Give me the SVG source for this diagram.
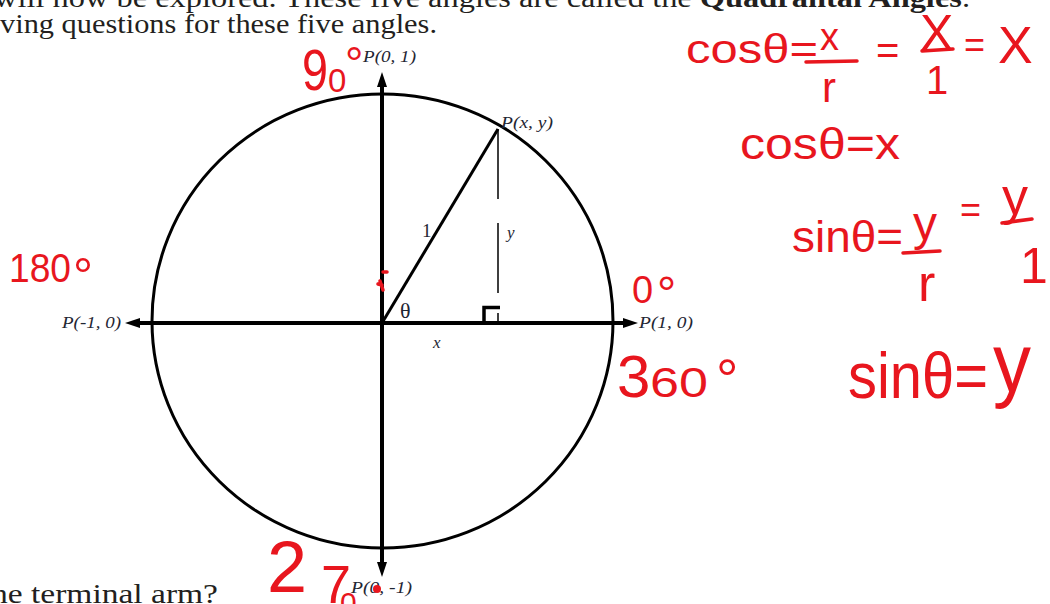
<svg xmlns="http://www.w3.org/2000/svg" width="1050" height="604" viewBox="0 0 1050 604">
<style>
.doc{font-family:"Liberation Serif","DejaVu Serif",serif;font-size:27px;fill:#231f20}
.lbl{font-family:"Liberation Serif","DejaVu Serif",serif;font-style:italic;font-size:17px;fill:#1f2633}
.up{font-family:"Liberation Serif","DejaVu Serif",serif;fill:#1f2633}
.hw{font-family:"Liberation Sans","DejaVu Sans",sans-serif;fill:#e8161e}
.bar{stroke:#e8161e;stroke-width:3.5;stroke-linecap:round;fill:none}
.ax{stroke:#000;stroke-width:4;fill:none}
</style>
<defs>
<marker id="arr" markerUnits="userSpaceOnUse" markerWidth="16" markerHeight="11" refX="5" refY="5" orient="auto-start-reverse">
<path d="M0,0 L15,5 L0,10 z" fill="#000"/>
</marker>
</defs>
<rect width="1050" height="604" fill="#fff"/>

<g id="page-text">
<text class="doc" x="-6" y="7" textLength="976" lengthAdjust="spacingAndGlyphs">will now be explored. These five angles are called the <tspan font-weight="bold">Quadrantal Angles</tspan>.</text>
<text class="doc" x="0" y="33" textLength="437" lengthAdjust="spacingAndGlyphs">ving questions for these five angles.</text>
<text class="doc" x="-9" y="603" textLength="227" lengthAdjust="spacingAndGlyphs">he terminal arm?</text>
</g>

<g id="circle">
<ellipse cx="382.5" cy="321" rx="230.5" ry="227" fill="none" stroke="#000" stroke-width="3"/>
</g>

<g id="connectors">
<line class="ax" x1="135" y1="323" x2="628" y2="323" marker-start="url(#arr)" marker-end="url(#arr)"/>
<line class="ax" x1="382" y1="82" x2="382" y2="567" marker-start="url(#arr)" marker-end="url(#arr)"/>
<line x1="382" y1="323" x2="498" y2="129" stroke="#000" stroke-width="3"/>
<path d="M498,129 V199 M498,223 V293 M498,313 V323" stroke="#000" stroke-width="1.5" fill="none"/>
<path d="M484,323 V307.5 H500" stroke="#000" stroke-width="3.5" fill="none"/>
</g>

<g id="labels">
<text class="lbl" x="363" y="62" textLength="53" lengthAdjust="spacingAndGlyphs">P(0, 1)</text>
<text class="lbl" x="501" y="128" textLength="52" lengthAdjust="spacingAndGlyphs">P(x, y)</text>
<text class="lbl" x="62" y="328" textLength="59" lengthAdjust="spacingAndGlyphs">P(-1, 0)</text>
<text class="lbl" x="639" y="328" textLength="54" lengthAdjust="spacingAndGlyphs">P(1, 0)</text>
<text class="lbl" x="351" y="593" textLength="61" lengthAdjust="spacingAndGlyphs">P(0, -1)</text>
<text class="up" x="422" y="237" font-size="19">1</text>
<text class="lbl" x="507" y="238" font-size="17">y</text>
<text class="up" x="400" y="318" font-size="22">θ</text>
<text class="lbl" x="433" y="348" font-size="17">x</text>
</g>

<g id="annotations">
<text class="hw" x="302" y="90" font-size="58" textLength="26" lengthAdjust="spacingAndGlyphs">9</text>
<text class="hw" x="328" y="92" font-size="33">0</text>
<text class="hw" x="345" y="80" font-size="46">°</text>

<text class="hw" x="9" y="282" font-size="40" textLength="62" lengthAdjust="spacingAndGlyphs">180</text>
<text class="hw" x="73" y="293" font-size="50">°</text>

<text class="hw" x="632" y="303" font-size="38">0</text>
<text class="hw" x="657" y="310" font-size="48">°</text>

<text class="hw" x="617" y="397" font-size="60">3</text>
<text class="hw" x="650" y="397" font-size="42" textLength="58" lengthAdjust="spacingAndGlyphs">60</text>
<text class="hw" x="716" y="398" font-size="56">°</text>

<text class="hw" x="267" y="592" font-size="72">2</text>
<text class="hw" x="321" y="603" font-size="54">7</text>
<text class="hw" x="340" y="613" font-size="30">0</text>
<circle cx="377" cy="589" r="4" fill="#e8161e"/>

<path class="bar" d="M383,272 L387,272 M380,281 L383,290 M378,284 L382,285"/>

<text class="hw" x="686" y="63" font-size="40" textLength="132" lengthAdjust="spacingAndGlyphs">cosθ=</text>
<text class="hw" x="820" y="50" font-size="38">x</text>
<line class="bar" x1="806" y1="62" x2="857" y2="61"/>
<text class="hw" x="822" y="102" font-size="42">r</text>
<text class="hw" x="876" y="64" font-size="40">=</text>
<text class="hw" x="920" y="50" font-size="50">X</text>
<line class="bar" x1="922" y1="51" x2="953" y2="49"/>
<text class="hw" x="926" y="94" font-size="40">1</text>
<text class="hw" x="964" y="57" font-size="36">=</text>
<text class="hw" x="998" y="63" font-size="52">X</text>

<text class="hw" x="740" y="159" font-size="44" textLength="160" lengthAdjust="spacingAndGlyphs">cosθ=x</text>

<text class="hw" x="792" y="252" font-size="44" textLength="111" lengthAdjust="spacingAndGlyphs">sinθ=</text>
<text class="hw" x="913" y="240" font-size="48">y</text>
<line class="bar" x1="903" y1="253" x2="940" y2="251"/>
<text class="hw" x="918" y="301" font-size="52">r</text>
<text class="hw" x="960" y="222" font-size="36">=</text>
<text class="hw" x="1002" y="214" font-size="52">y</text>
<line class="bar" x1="1002" y1="223" x2="1032" y2="219"/>
<text class="hw" x="1020" y="283" font-size="50">1</text>

<text class="hw" x="848" y="398" font-size="64" textLength="140" lengthAdjust="spacingAndGlyphs">sinθ=</text>
<text class="hw" x="993" y="392" font-size="84" textLength="38" lengthAdjust="spacingAndGlyphs">y</text>
</g>
</svg>
